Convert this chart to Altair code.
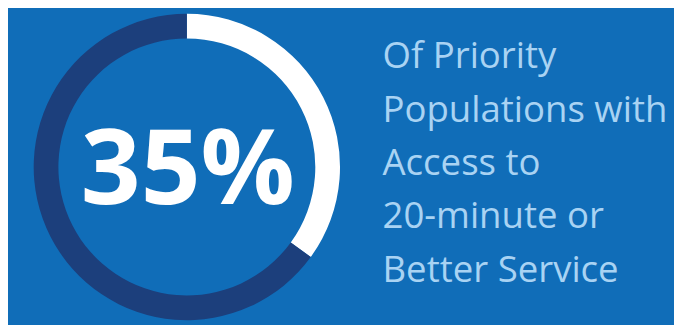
import altair as alt
import pandas as pd

# Data
segments = ["Access", "No access"]
values = [35, 65]
seg_colors = ["#ffffff", "#1c3f7c"]
label_text = "35%"
caption_lines = ["Of Priority", "Populations with", "Access to", "20-minute or", "Better Service"]

BG = "#106db8"

df = pd.DataFrame({"segment": segments, "value": values, "order": [0, 1]})

ring = alt.Chart(df).mark_arc(innerRadius=130, outerRadius=155, stroke=None).encode(
    theta=alt.Theta("value:Q", stack=True),
    color=alt.Color("segment:N", scale=alt.Scale(domain=segments, range=seg_colors), legend=None),
    order=alt.Order("order:Q"),
    x=alt.value(181),
    y=alt.value(159),
)

big = alt.Chart(pd.DataFrame({"t": [label_text]})).mark_text(
    font="Open Sans", fontWeight="bold", fontSize=106, color="#ffffff",
    align="center", baseline="alphabetic",
).encode(text="t:N", x=alt.value(182), y=alt.value(196))

cap = alt.Chart(pd.DataFrame({"t": ["\n".join(caption_lines)]})).mark_text(
    font="Open Sans", fontSize=37, color="#a9d3f3",
    align="left", baseline="alphabetic", lineBreak="\n", lineHeight=54,
).encode(text="t:N", x=alt.value(379), y=alt.value(59))

chart = alt.layer(ring, big, cap).properties(
    width=674, height=317, autosize=alt.AutoSizeParams(type="none"), padding=0,
    background=BG,
).configure_view(stroke=None)

chart.save("out.html", embed_options={"renderer": "svg", "actions": False})
